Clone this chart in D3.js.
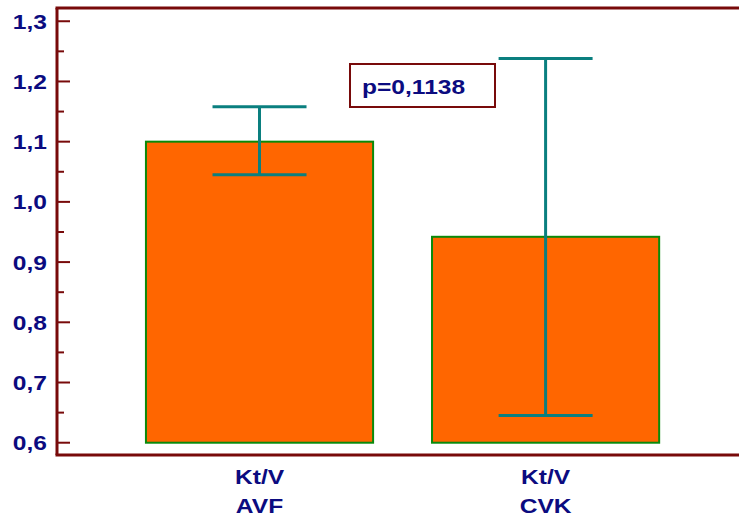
<!DOCTYPE html>
<html>
<head>
<meta charset="utf-8">
<script src="https://cdn.jsdelivr.net/npm/d3@7"></script>
<style>
  html, body { margin: 0; padding: 0; background: #fff; }
  svg { display: block; }
  text { font-family: "Liberation Sans", Arial, sans-serif; font-weight: bold; fill: #0b0b80; }
</style>
</head>
<body>
<svg id="chart" width="739" height="518"></svg>
<script>
// Kt/V by vascular access type: mean with error range
const categories = ["Kt/V\nAVF", "Kt/V\nCVK"];
const means = [1.100, 0.942];
const lower = [1.045, 0.645];
const upper = [1.158, 1.238];
const yTicks = [0.6, 0.7, 0.8, 0.9, 1.0, 1.1, 1.2, 1.3];
const yMinorTicks = [0.65, 0.75, 0.85, 0.95, 1.05, 1.15, 1.25];
const pLabel = "p=0,1138";
const baseValue = 0.6;

(function draw() {
  const svg = d3.select("#chart");
  const W = 739;
  const mLeft = 57, mRight = 739, mTop = 8, mBottom = 455;
  const stretch = 1.17; // horizontal stretch of the lettering
  const fs = 21;

  const y = d3.scaleLinear().domain([0.5796, 1.322]).range([mBottom, mTop]);
  const x = d3.scaleBand().domain(categories).range([mLeft, mRight])
    .paddingInner(0.206).paddingOuter(0.295).align(0.527);

  const fmt = v => d3.format(".1f")(v).replace(".", ",");

  // bars
  svg.append("g").selectAll("rect").data(categories).join("rect")
    .attr("x", d => x(d))
    .attr("width", x.bandwidth())
    .attr("y", (d, i) => y(means[i]))
    .attr("height", (d, i) => y(baseValue) - y(means[i]))
    .attr("fill", "#ff6600")
    .attr("stroke", "#0a8a0a")
    .attr("stroke-width", 2);

  // error bars
  const eb = svg.append("g").attr("stroke", "#0a7f7f").attr("stroke-width", 3);
  const capHalf = 47;
  categories.forEach((c, i) => {
    const cx = x(c) + x.bandwidth() / 2;
    eb.append("line").attr("x1", cx).attr("x2", cx).attr("y1", y(upper[i])).attr("y2", y(lower[i]));
    eb.append("line").attr("x1", cx - capHalf).attr("x2", cx + capHalf).attr("y1", y(upper[i])).attr("y2", y(upper[i]));
    eb.append("line").attr("x1", cx - capHalf).attr("x2", cx + capHalf).attr("y1", y(lower[i])).attr("y2", y(lower[i]));
  });

  // y axis
  const axisColor = "#780a0a";
  const yAxis = svg.append("g");
  yAxis.selectAll("line.major").data(yTicks).join("line")
    .attr("class", "major")
    .attr("x1", mLeft).attr("x2", mLeft + 13)
    .attr("y1", d => y(d)).attr("y2", d => y(d))
    .attr("stroke", axisColor).attr("stroke-width", 2);
  yAxis.selectAll("line.minor").data(yMinorTicks).join("line")
    .attr("class", "minor")
    .attr("x1", mLeft).attr("x2", mLeft + 7)
    .attr("y1", d => y(d)).attr("y2", d => y(d))
    .attr("stroke", axisColor).attr("stroke-width", 2);
  yAxis.selectAll("text").data(yTicks).join("text")
    .attr("transform", d => `translate(47,${y(d) + 7.5}) scale(${stretch},1)`)
    .attr("text-anchor", "end")
    .attr("font-size", fs)
    .text(fmt);

  // frame: left, top, bottom
  svg.append("line").attr("x1", mLeft).attr("x2", mLeft).attr("y1", mTop).attr("y2", mBottom)
    .attr("stroke", axisColor).attr("stroke-width", 3);
  svg.append("line").attr("x1", mLeft - 1.5).attr("x2", W).attr("y1", mTop).attr("y2", mTop)
    .attr("stroke", axisColor).attr("stroke-width", 3);
  svg.append("line").attr("x1", mLeft - 1.5).attr("x2", W).attr("y1", mBottom).attr("y2", mBottom)
    .attr("stroke", axisColor).attr("stroke-width", 3);

  // category labels
  categories.forEach(c => {
    const cx = x(c) + x.bandwidth() / 2;
    c.split("\n").forEach((line, j) => {
      svg.append("text")
        .attr("transform", `translate(${cx},${483.5 + j * 29.5}) scale(${stretch},1)`)
        .attr("text-anchor", "middle")
        .attr("font-size", fs)
        .text(line);
    });
  });

  // p-value box
  const pg = svg.append("g");
  pg.append("rect").attr("x", 350).attr("y", 64).attr("width", 145).attr("height", 43)
    .attr("fill", "#fff").attr("stroke", axisColor).attr("stroke-width", 2);
  pg.append("text")
    .attr("transform", `translate(362,93.5) scale(${stretch},1)`)
    .attr("font-size", fs)
    .text(pLabel);
})();
</script>
</body>
</html>
